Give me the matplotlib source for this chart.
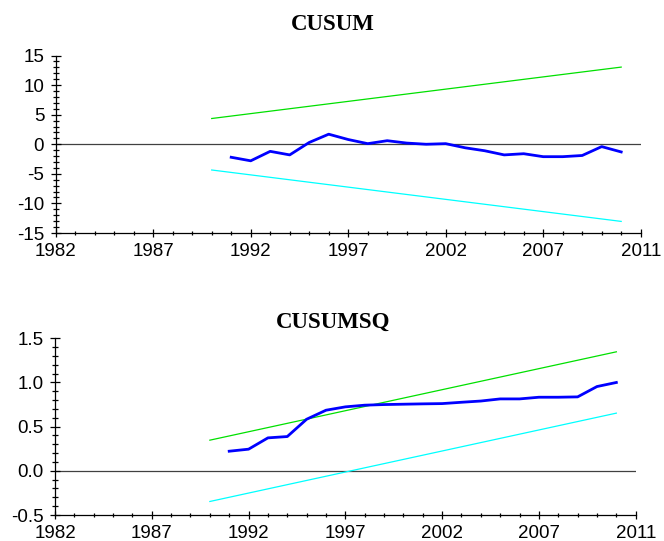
import matplotlib
matplotlib.use("Agg")
import matplotlib.pyplot as plt
from matplotlib.ticker import MultipleLocator, FixedLocator, FixedFormatter

# ---- data ----
years = list(range(1991, 2012))
cusum = [-2.2, -2.8, -1.2, -1.8, 0.3, 1.7, 0.8, 0.1, 0.6, 0.2, 0.0, 0.1,
         -0.6, -1.1, -1.8, -1.6, -2.1, -2.1, -1.9, -0.4, -1.3]
cusumsq = [0.222, 0.245, 0.373, 0.388, 0.584, 0.686, 0.724, 0.743, 0.750,
           0.754, 0.758, 0.761, 0.776, 0.790, 0.814, 0.814, 0.833, 0.833,
           0.837, 0.954, 1.000]
bound_years = [1990, 2011]
cusum_upper = [4.35, 13.04]
cusum_lower = [-4.35, -13.04]
sq_upper = [0.347, 1.347]
sq_lower = [-0.347, 0.653]
xtick_pos = [1982, 1987, 1992, 1997, 2002, 2007, 2012]
xtick_labels = ["1982", "1987", "1992", "1997", "2002", "2007", "2011"]

plt.rcParams['font.family'] = ['Liberation Sans', 'DejaVu Sans']

fig = plt.figure(figsize=(6.64, 5.41), dpi=100)
W, H = 664, 541

def make_ax(left, right, top, bottom):
    return fig.add_axes([left / W, 1 - bottom / H, (right - left) / W, (bottom - top) / H])

ax1 = make_ax(55.7, 640.7, 55.5, 233.0)
ax2 = make_ax(55.0, 635.7, 338.3, 515.0)

def style(ax, ylim, ymajor, yminor, fmt):
    ax.set_xlim(1982, 2012)
    ax.set_ylim(*ylim)
    for s in ['top', 'right']:
        ax.spines[s].set_visible(False)
    for s in ['left', 'bottom']:
        ax.spines[s].set_linewidth(0.9)
        ax.spines[s].set_color('black')
    ax.xaxis.set_major_locator(FixedLocator(xtick_pos))
    ax.xaxis.set_major_formatter(FixedFormatter(xtick_labels))
    ax.xaxis.set_minor_locator(MultipleLocator(1))
    ax.yaxis.set_major_locator(MultipleLocator(ymajor))
    ax.yaxis.set_minor_locator(MultipleLocator(yminor))
    ax.yaxis.set_major_formatter(plt.FormatStrFormatter(fmt))
    ax.tick_params(axis='both', which='major', direction='inout', labelsize=13.5,
                   width=0.9, colors='black')
    ax.tick_params(axis='x', which='major', length=6, pad=4)
    ax.tick_params(axis='x', which='minor', direction='inout', length=3, width=0.9)
    ax.tick_params(axis='y', which='major', length=6.5, pad=5)
    ax.tick_params(axis='y', which='minor', direction='inout', length=4.5, width=0.9)
    ax.axhline(0, color='#404040', lw=0.9, zorder=1)
    ax.patch.set_alpha(0)

# CUSUM
ax1.plot(bound_years, cusum_upper, color='#00e000', lw=0.9)
ax1.plot(bound_years, cusum_lower, color='#00ffff', lw=0.9)
ax1.plot(years, cusum, color='#0000ff', lw=2.0)
style(ax1, (-15, 15), 5, 1, '%d')

# CUSUMSQ
ax2.plot(bound_years, sq_upper, color='#00e000', lw=0.9)
ax2.plot(bound_years, sq_lower, color='#00ffff', lw=0.9)
ax2.plot(years, cusumsq, color='#0000ff', lw=2.0)
style(ax2, (-0.5, 1.5), 0.5, 0.1, '%.1f')

fig.text(333 / W, 1 - 25 / H, "CUSUM", ha='center', va='center',
         family=['Liberation Serif', 'DejaVu Serif'], weight='bold', fontsize=16.5)
fig.text(333 / W, 1 - 322 / H, "CUSUMSQ", ha='center', va='center',
         family=['Liberation Serif', 'DejaVu Serif'], weight='bold', fontsize=16.5)

fig.savefig("out.png", dpi=100, facecolor='white')
